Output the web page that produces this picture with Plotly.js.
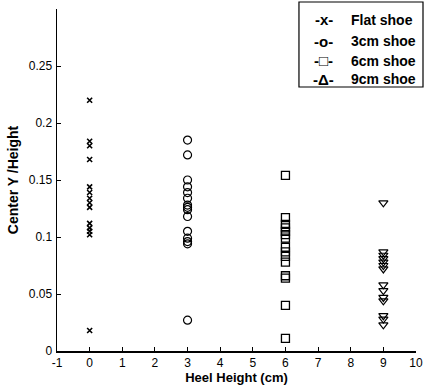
<!DOCTYPE html>
<html>
<head>
<meta charset="utf-8">
<script src="https://cdn.plot.ly/plotly-3.0.1.min.js"></script>
<style>html,body{margin:0;padding:0;background:#fff}#chart{width:425px;height:392px}</style>
</head>
<body>
<div id="chart"></div>
<script>
var seriesNames = ["Flat shoe", "3cm shoe", "6cm shoe", "9cm shoe"];
var legendSymbols = ["-x-", "-o-", "-\u25A1-", "-\u0394-"];
var heelHeights = [0, 3, 6, 9];
var flatShoe = [0.220, 0.184, 0.180, 0.168, 0.144, 0.139, 0.134, 0.130, 0.126, 0.112, 0.108, 0.105, 0.102, 0.018];
var shoe3cm = [0.185, 0.172, 0.150, 0.144, 0.139, 0.134, 0.128, 0.126, 0.124, 0.118, 0.105, 0.099, 0.096, 0.094, 0.027];
var shoe6cm = [0.154, 0.117, 0.111, 0.108, 0.105, 0.102, 0.099, 0.091, 0.087, 0.083, 0.078, 0.066, 0.064, 0.040, 0.011];
var shoe9cm = [0.130, 0.087, 0.084, 0.081, 0.078, 0.075, 0.072, 0.058, 0.053, 0.047, 0.044, 0.031, 0.028, 0.023];
var xTickVals = [-1, 0, 1, 2, 3, 4, 5, 6, 7, 8, 9, 10];
var xTickText = ["-1", "0", "1", "2", "3", "4", "5", "6", "7", "8", "9", "10"];
var yTickVals = [0, 0.05, 0.1, 0.15, 0.2, 0.25];
var yTickText = ["0", "0.05", "0.1", "0.15", "0.2", "0.25"];

var allSeries = [flatShoe, shoe3cm, shoe6cm, shoe9cm];
var symbols = ["x-thin-open", "circle-open", "square-open", "triangle-down-open"];
var sizes = [5, 8, 8, 8];
var widths = [1.6, 1.2, 1.3, 1.2];

var traces = allSeries.map(function (vals, i) {
  return {
    type: "scatter", mode: "markers",
    x: vals.map(function () { return heelHeights[i]; }),
    y: vals,
    name: seriesNames[i],
    marker: { symbol: symbols[i], size: sizes[i], color: "#000", line: { color: "#000", width: widths[i] } },
    showlegend: false
  };
});

var tickFont = { family: "Liberation Sans Narrow, Arial Narrow, Liberation Sans, Arial", size: 12, color: "#000" };

var annotations = [];
var rowY = [0.969, 0.906, 0.849, 0.795];
seriesNames.forEach(function (n, i) {
  annotations.push({ xref: "paper", yref: "paper", x: 0.743, y: rowY[i], xanchor: "center", yanchor: "middle",
    text: "<b>" + legendSymbols[i] + "</b>", showarrow: false, font: { family: "Liberation Sans, Arial", size: 15, color: "#000" } });
  annotations.push({ xref: "paper", yref: "paper", x: 0.812, y: rowY[i], xanchor: "left", yanchor: "middle",
    text: "<b>" + n + "</b>", showarrow: false, font: { family: "Liberation Sans, Arial", size: 14, color: "#000" } });
});

var layout = {
  width: 425, height: 392,
  margin: { l: 57, r: 9, t: 9, b: 41 },
  paper_bgcolor: "#fff", plot_bgcolor: "#fff",
  showlegend: false,
  xaxis: {
    range: [-1, 10], tickvals: xTickVals, ticktext: xTickText, ticks: "inside", ticklen: 4, tickcolor: "#000", tickwidth: 1,
    showline: true, linecolor: "#000", linewidth: 1.5, showgrid: false, zeroline: false,
    tickfont: tickFont,
    title: { text: "Heel Height (cm)", font: { family: "Liberation Sans, Arial", size: 13, color: "#000", weight: "bold" }, standoff: 3 }
  },
  yaxis: {
    range: [0, 0.3], tickvals: yTickVals, ticktext: yTickText, ticks: "inside", ticklen: 4, tickcolor: "#000", tickwidth: 1,
    showline: true, linecolor: "#000", linewidth: 1.5, showgrid: false, zeroline: false,
    tickfont: tickFont, ticklabelstandoff: 1,
    title: { text: "Center Y /Height", font: { family: "Liberation Sans, Arial", size: 14, color: "#000", weight: "bold" }, standoff: 7 }
  },
  shapes: [{ type: "rect", xref: "paper", yref: "paper", x0: 0.674, x1: 1.0195, y0: 0.772, y1: 1.0205,
    line: { color: "#000", width: 1.2 }, fillcolor: "rgba(0,0,0,0)" }],
  annotations: annotations
};

Plotly.newPlot("chart", traces, layout, { staticPlot: true, displayModeBar: false });
</script>
</body>
</html>
